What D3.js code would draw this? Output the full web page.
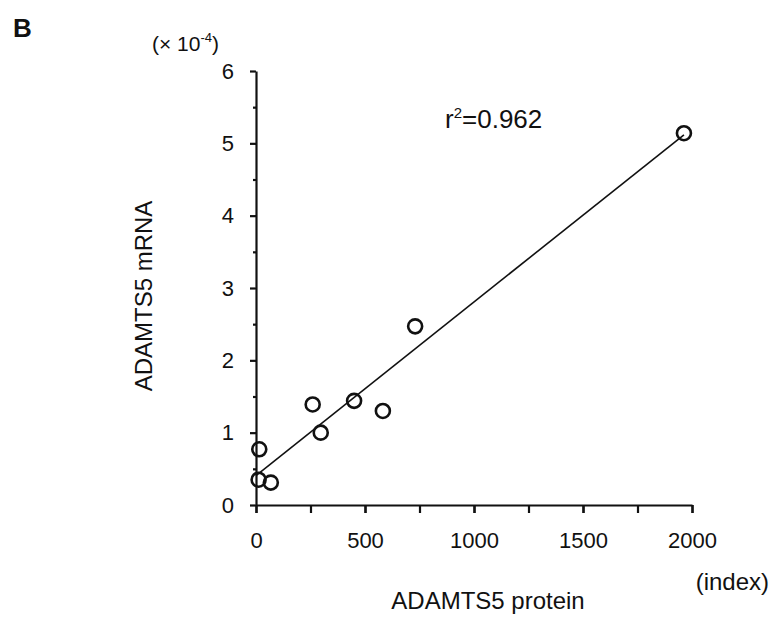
<!DOCTYPE html>
<html>
<head>
<meta charset="utf-8">
<script src="https://cdn.jsdelivr.net/npm/d3@7"></script>
<style>
  body { margin: 0; background: #fff; }
  svg text { font-family: "Liberation Sans", Arial, Helvetica, sans-serif; fill: #111; }
</style>
</head>
<body>
<svg id="chart" width="770" height="617"></svg>
<script>
// ADAMTS5 protein (index) vs ADAMTS5 mRNA (x 10^-4)
var proteinIndex = [15, 12, 68, 260, 297, 450, 582, 730, 1963];
var mrnaLevel = [0.77, 0.35, 0.31, 1.39, 1.0, 1.44, 1.3, 2.47, 5.14];
var xTickValues = [0, 500, 1000, 1500, 2000];
var xMinorTicks = [0, 250, 500, 750, 1000, 1250, 1500, 1750, 2000];
var yTickValues = [0, 1, 2, 3, 4, 5, 6];
var yMinorTicks = [0.5, 1.5, 2.5, 3.5, 4.5, 5.5];
var rSquared = "0.962";

var svg = d3.select("#chart");

var x = d3.scaleLinear().domain([0, 2000]).range([256, 692]);
var y = d3.scaleLinear().domain([0, 6]).range([505, 71]);

// least squares fit line
var mx = d3.mean(proteinIndex), my = d3.mean(mrnaLevel);
var sxy = d3.sum(proteinIndex, function(d, i) { return (d - mx) * (mrnaLevel[i] - my); });
var sxx = d3.sum(proteinIndex, function(d) { return (d - mx) * (d - mx); });
var slope = sxy / sxx;
var intercept = my - slope * mx;
var x0 = 0, x1 = d3.max(proteinIndex);

svg.append("line")
  .attr("x1", x(x0)).attr("y1", y(intercept + slope * x0))
  .attr("x2", x(x1)).attr("y2", y(intercept + slope * x1))
  .attr("stroke", "#111").attr("stroke-width", 1.6);

// axes
svg.append("g")
  .attr("transform", "translate(0," + y(0) + ")")
  .call(d3.axisBottom(x).tickValues(xMinorTicks).tickSize(8).tickSizeOuter(0).tickFormat(""));
var xLabels = svg.append("g")
  .attr("transform", "translate(0," + y(0) + ")")
  .call(d3.axisBottom(x).tickValues(xTickValues).tickSize(8).tickPadding(19)
    .tickSizeOuter(0).tickFormat(d3.format("d")));
xLabels.select(".domain").remove();

svg.append("g")
  .attr("transform", "translate(" + x(0) + ",0)")
  .call(d3.axisLeft(y).tickValues(yTickValues).tickSize(6).tickPadding(16)
    .tickSizeOuter(0).tickFormat(d3.format("d")));
var yMinor = svg.append("g")
  .attr("transform", "translate(" + x(0) + ",0)")
  .call(d3.axisLeft(y).tickValues(yMinorTicks).tickSize(3).tickSizeOuter(0).tickFormat(""));
yMinor.select(".domain").remove();

svg.selectAll(".domain, .tick line").attr("stroke", "#111").attr("stroke-width", 2.2);
svg.selectAll(".tick text").attr("font-size", 22).attr("fill", "#111")
  .attr("font-family", "Liberation Sans, Arial, sans-serif");

// points
svg.append("g").selectAll("circle")
  .data(proteinIndex)
  .join("circle")
  .attr("cx", function(d) { return x(d); })
  .attr("cy", function(d, i) { return y(mrnaLevel[i]); })
  .attr("r", 7)
  .attr("fill", "none")
  .attr("stroke", "#111")
  .attr("stroke-width", 2.6);

// texts
svg.append("text").attr("x", 13).attr("y", 37)
  .attr("font-size", 26).attr("font-weight", "bold").text("B");

var unit = svg.append("text").attr("x", 152).attr("y", 51).attr("font-size", 21);
unit.append("tspan").text("(× 10");
unit.append("tspan").attr("font-size", 13).attr("dy", -9).text("-4");
unit.append("tspan").attr("dy", 9).text(")");

var r2 = svg.append("text").attr("x", 445).attr("y", 128).attr("font-size", 26);
r2.append("tspan").text("r");
r2.append("tspan").attr("font-size", 15).attr("dy", -10).text("2");
r2.append("tspan").attr("dy", 10).text("=" + rSquared);

svg.append("text")
  .attr("transform", "translate(152,296) rotate(-90)")
  .attr("text-anchor", "middle").attr("font-size", 24)
  .text("ADAMTS5 mRNA");

svg.append("text").attr("x", 769).attr("y", 590)
  .attr("text-anchor", "end").attr("font-size", 24).text("(index)");

svg.append("text").attr("x", 488).attr("y", 609)
  .attr("text-anchor", "middle").attr("font-size", 24).text("ADAMTS5 protein");
</script>
</body>
</html>
